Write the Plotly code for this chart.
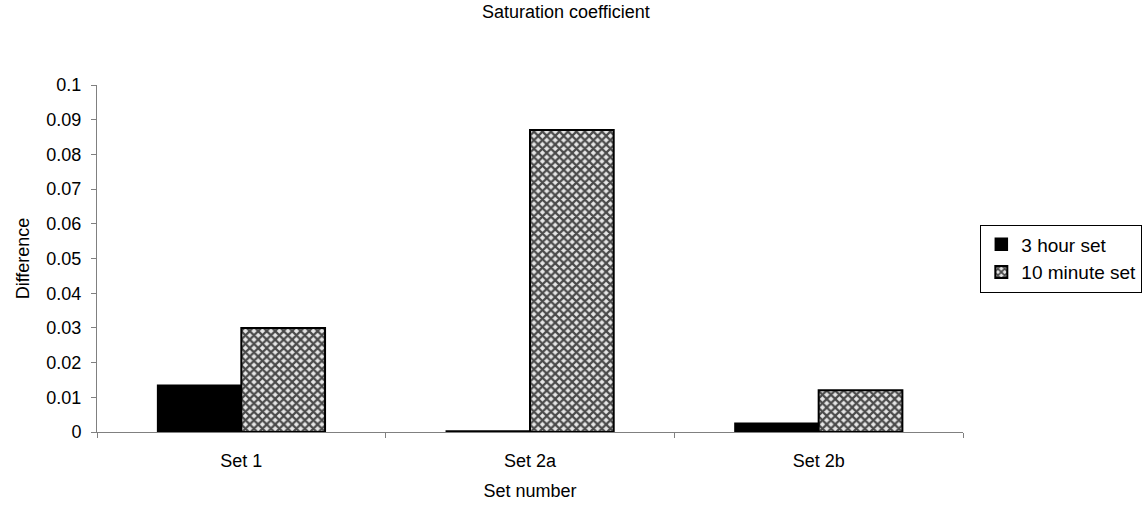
import plotly.graph_objects as go

# Chart data
categories = ["Set 1", "Set 2a", "Set 2b"]
three_hour = [0.0135, 0.0003, 0.0025]
ten_minute = [0.030, 0.087, 0.012]
y_ticks = [0, 0.01, 0.02, 0.03, 0.04, 0.05, 0.06, 0.07, 0.08, 0.09, 0.1]
y_tick_text = ["0", "0.01", "0.02", "0.03", "0.04", "0.05", "0.06", "0.07", "0.08", "0.09", "0.1"]

FONT = "Liberation Sans, Arial, sans-serif"
FS = 18

fig = go.Figure()
fig.add_trace(go.Bar(
    name="3 hour set",
    x=categories,
    y=three_hour,
    marker=dict(color="black", line=dict(color="black", width=1.5)),
))
fig.add_trace(go.Bar(
    name="10 minute set",
    x=categories,
    y=ten_minute,
    marker=dict(
        color="#9a9a9a",
        line=dict(color="black", width=2),
        pattern=dict(shape="x", fgcolor="#4a4a4a", bgcolor="#e6e6e6",
                     size=6, solidity=0.6, fillmode="replace"),
    ),
))

fig.update_layout(
    width=1143,
    height=509,
    paper_bgcolor="white",
    plot_bgcolor="white",
    barmode="group",
    bargap=0.42,
    bargroupgap=0,
    margin=dict(l=97, r=180, t=85, b=77, autoexpand=False),
    font=dict(family=FONT, size=FS, color="black"),
    title=dict(text="Saturation coefficient", x=0.495, xanchor="center",
               y=0.99, yanchor="top", font=dict(family=FONT, size=FS)),
    legend=dict(
        x=1.02, y=0.5, xanchor="left", yanchor="middle",
        bordercolor="black", borderwidth=1,
        font=dict(family=FONT, size=FS + 1),
        itemwidth=30, tracegroupgap=0,
    ),
    xaxis=dict(
        title=dict(text="Set number", font=dict(family=FONT, size=FS), standoff=14),
        showline=True, linecolor="#808080", linewidth=1,
        ticks="outside", tickson="boundaries", ticklen=5, tickcolor="#808080",
        ticklabelstandoff=12,
        showgrid=False,
    ),
    yaxis=dict(
        title=dict(text="Difference", font=dict(family=FONT, size=FS), standoff=12),
        range=[0, 0.1],
        tickvals=y_ticks, ticktext=y_tick_text,
        showline=True, linecolor="#808080", linewidth=1,
        ticks="outside", ticklen=5, tickcolor="#808080",
        ticklabelstandoff=6,
        showgrid=False, zeroline=False,
    ),
)

fig.write_html("out.html")
